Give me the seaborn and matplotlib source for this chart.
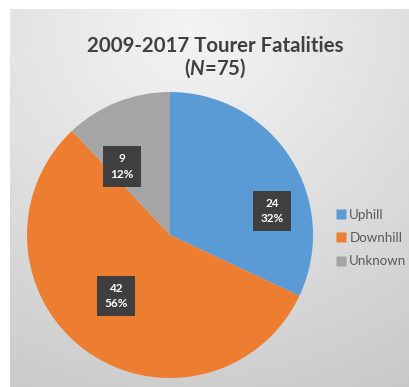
import numpy as np
import matplotlib
matplotlib.use("Agg")
import matplotlib.pyplot as plt
import seaborn as sns

# Data
categories = ["Uphill", "Downhill", "Unknown"]
counts = [24, 42, 9]
percents = [32, 56, 12]
colors = ["#5B9BD5", "#ED7D31", "#A5A5A5"]

sns.set_theme(style="white")
plt.rcParams["font.family"] = ["Lato", "DejaVu Sans"]
plt.rcParams["mathtext.fontset"] = "custom"
plt.rcParams["mathtext.rm"] = "Lato"
plt.rcParams["mathtext.bf"] = "Lato:bold"
plt.rcParams["mathtext.bfit"] = "Lato:italic:bold"

W, H = 410, 387
fig = plt.figure(figsize=(W / 100, H / 100), dpi=100)
fig.patch.set_facecolor("white")

# Radial gray gradient panel behind the chart
bg = fig.add_axes([10 / W, 0, (W - 10) / W, (H - 9) / H], zorder=0)
ny, nx = 200, 210
yy, xx = np.mgrid[0:ny, 0:nx]
cx, cy = nx * 0.45, ny * 0.05
d = np.sqrt(((xx - cx) / nx) ** 2 + ((yy - cy) / ny) ** 2)
d = d / d.max()
top, bottom = 0.955, 0.785
shade = top - (top - bottom) * np.clip(d, 0, 1) ** 1.1
bg.imshow(np.dstack([shade] * 3), aspect="auto", extent=[0, 1, 0, 1], origin="upper")
bg.set_axis_off()

# Pie axes: centre at (170, 235) px, radius ~143 px
cxp, cyp, r = 170, 235, 143
ax = fig.add_axes([(cxp - r) / W, (H - cyp - r) / H, 2 * r / W, 2 * r / H], zorder=1)
ax.pie(counts, colors=colors, startangle=90, counterclock=False,
       radius=1.0, wedgeprops=dict(linewidth=0))
ax.set_xlim(-1, 1)
ax.set_ylim(-1, 1)
ax.set_aspect("auto")
ax.set_axis_off()

# Data label boxes (value and share)
label_pos = [(0.713, 0.168), (-0.378, -0.427), (-0.336, 0.48)]
for (lx, ly), n, p in zip(label_pos, counts, percents):
    ax.text(lx, ly, f"{n}\n{p}%", ha="center", va="center", color="white",
            fontsize=8.5, fontweight="bold", linespacing=1.5,
            bbox=dict(boxstyle="square,pad=0.6", facecolor="#3F3F3F",
                      edgecolor="none"))

# Title
fig.text(215 / W, 1 - 46 / H, "2009-2017 Tourer Fatalities", ha="center",
         va="center", fontsize=14.7, fontweight="bold", color="#404040")
fig.text(215 / W, 1 - 68 / H, r"($\mathbfit{N}$=75)", ha="center", va="center",
         fontsize=14.7, fontweight="bold", color="#404040")

# Legend
handles = [plt.Line2D([], [], marker="s", linestyle="none", markersize=6.5,
                      markerfacecolor=c, markeredgecolor="none") for c in colors]
fig.legend(handles, categories, loc="center left",
           bbox_to_anchor=(330 / W, 1 - 238 / H), frameon=False,
           fontsize=9.6, labelcolor="#595959", handletextpad=0.15,
           handlelength=0.9, labelspacing=0.85, borderaxespad=0)

fig.savefig("out.png", dpi=100)
